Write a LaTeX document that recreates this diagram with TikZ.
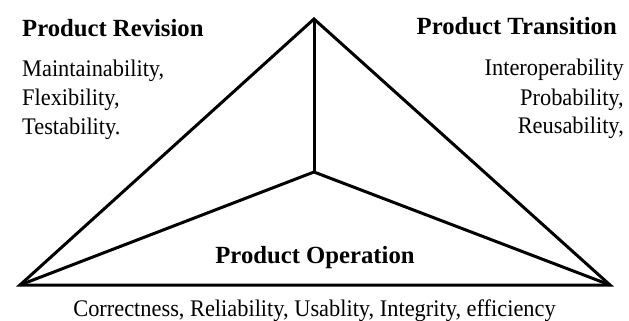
\documentclass[tikz,border=0pt]{standalone}
\usepackage{fontspec}
\setmainfont{Liberation Serif}
\begin{document}
\begin{tikzpicture}[x=1pt,y=-1pt,
  edge/.style={line width=3pt,line join=miter,miter limit=20},
  title/.style={font=\fontsize{24.7}{28}\selectfont\bfseries,inner sep=0pt},
  item/.style={font=\fontsize{23.8}{26}\selectfont\addfontfeature{FakeStretch=0.94},inner sep=0pt}]
\useasboundingbox (0,0) rectangle (629,321);
% corners of the pyramid
\coordinate (apex) at (314,19);
\coordinate (mid) at (314,172);
\coordinate (left) at (20,285);
\coordinate (right) at (610,285);
\draw[edge] (apex) -- (left) -- (right) -- cycle;
\draw[edge] (apex) -- (mid);
\draw[edge] (left) -- (mid) -- (right);
% product revision
\node[title,anchor=base west] (rev) at (22,37) {Product Revision};
\node[item,anchor=base west] (r1) at (22,76.5) {Maintainability,};
\node[item,anchor=base west] (r2) at (22,105) {Flexibility,};
\node[item,anchor=base west] (r3) at (22,134) {Testability.};
% product transition
\node[title,anchor=base east] (tra) at (617,35) {Product Transition};
\node[item,anchor=base east] (t1) at (624,75.5) {Interoperability};
\node[item,anchor=base east] (t2) at (624,105) {Probability,};
\node[item,anchor=base east] (t3) at (624,133.5) {Reusability,};
% product operation
\node[title,anchor=base] (op) at (315,263) {Product Operation};
\node[item,anchor=base] (o1) at (314.5,316.5) {Correctness, Reliability, Usablity, Integrity, efficiency};
\end{tikzpicture}
\end{document}
